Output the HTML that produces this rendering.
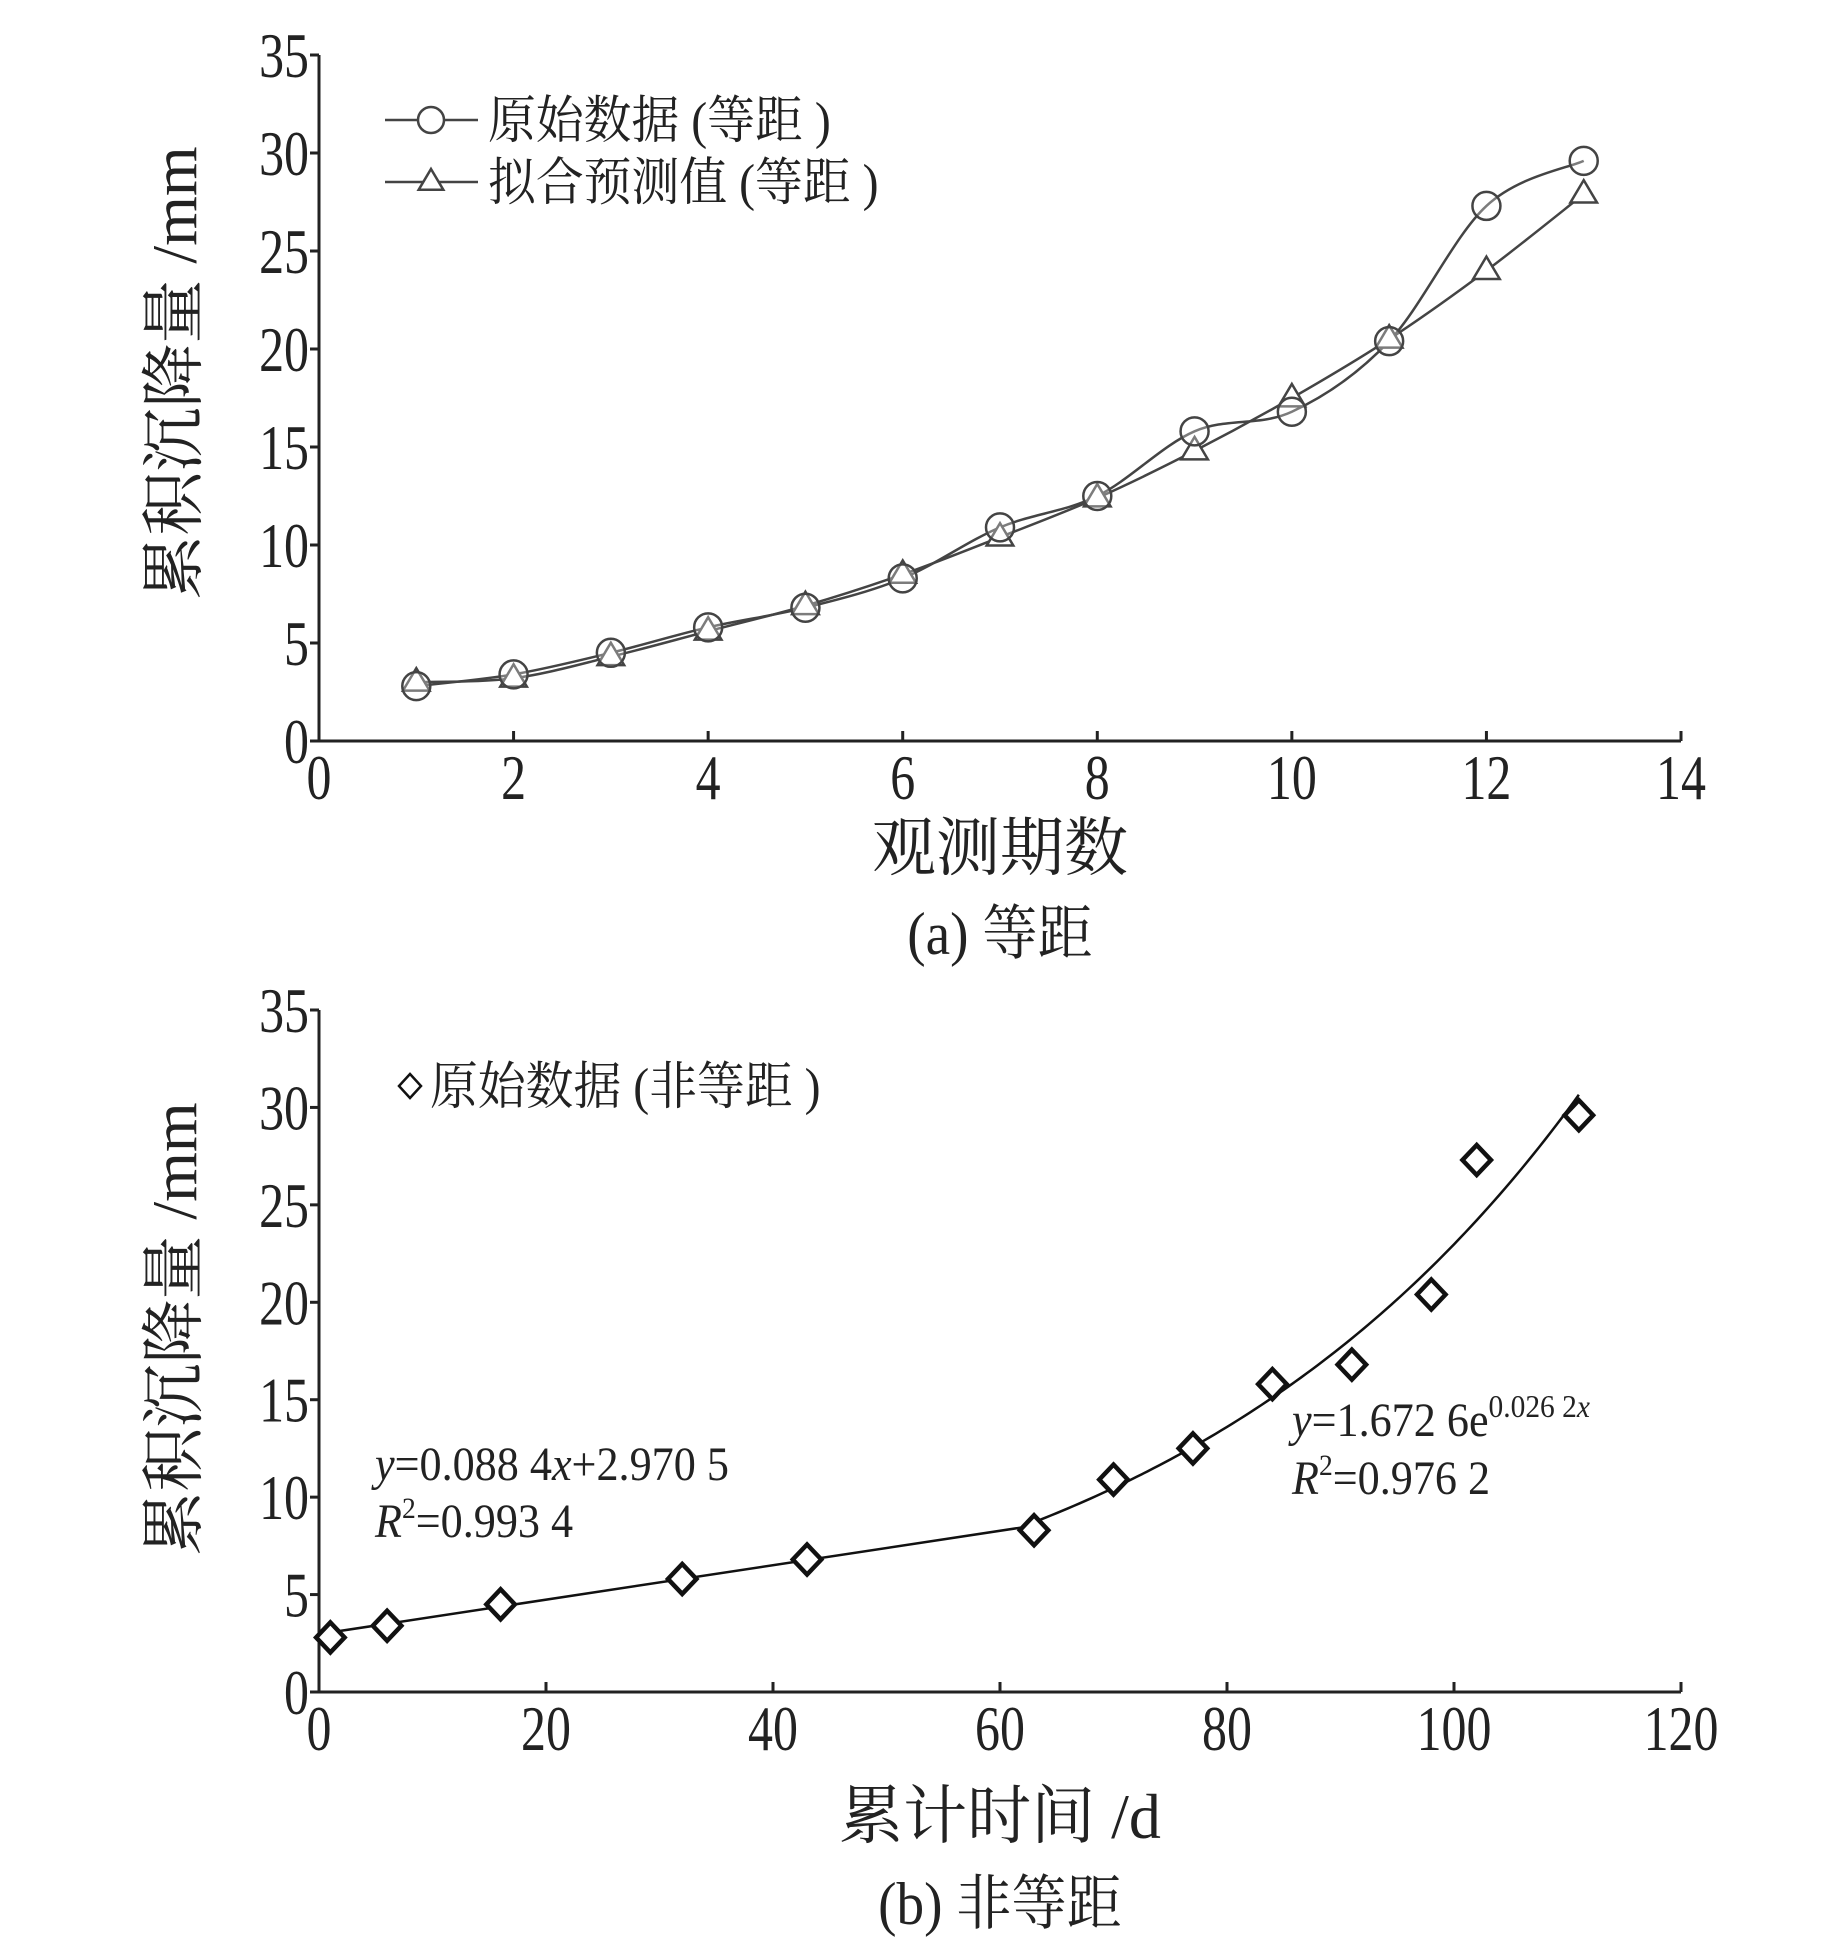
<!DOCTYPE html>
<html><head><meta charset="utf-8"><style>
html,body{margin:0;padding:0;background:#fff}
svg{display:block}
text{font-family:"Liberation Serif","Noto Serif CJK SC","Noto Sans CJK SC",serif;fill:#222}
</style></head><body>
<svg id="chart" width="1843" height="1937" viewBox="0 0 1843 1937"></svg>
<script>
const periods=[1,2,3,4,5,6,7,8,9,10,11,12,13];
const origA=[2.8,3.4,4.5,5.8,6.8,8.3,10.9,12.5,15.8,16.8,20.4,27.3,29.6];
const predA=[3.0,3.2,4.3,5.6,6.9,8.5,10.4,12.4,14.8,17.5,20.5,24.0,27.9];
const daysB=[1,6,16,32,43,63,70,77,84,91,98,102,111];
const origB=[2.8,3.4,4.5,5.8,6.8,8.3,10.9,12.5,15.8,16.8,20.4,27.3,29.6];
const linCoef=[0.0884,2.9705];
const expCoef=[1.6726,0.0262];
const yTicks=[0,5,10,15,20,25,30,35];
const xTicksA=[0,2,4,6,8,10,12,14];
const xTicksB=[0,20,40,60,80,100,120];

const svg=document.getElementById('chart');
const NS='http://www.w3.org/2000/svg';
function el(tag,attrs,parent){const e=document.createElementNS(NS,tag);for(const k in attrs)e.setAttribute(k,attrs[k]);(parent||svg).appendChild(e);return e;}
function txt(s,x,y,size,anchor,parent){const t=el('text',{x:x,y:y,'font-size':size,'text-anchor':anchor||'middle'},parent);t.textContent=s;return t;}
function ctxt(s,x,y,size,anchor,sx,parent){const t=el('text',{x:0,y:0,'font-size':size,'text-anchor':anchor,transform:`translate(${x},${y}) scale(${sx},1)`},parent);t.textContent=s;return t;}

function axes(g,x0,x1,y0,y1,xmax,xt,ymax){
  const sx=v=>x0+(v/xmax)*(x1-x0);
  const sy=v=>y0-(v/ymax)*(y0-y1);
  const ax=el('path',{d:`M${x0} ${y1}L${x0} ${y0}L${x1} ${y0}`,fill:'none',stroke:'#222','stroke-width':3},g);
  
  
  yTicks.forEach(v=>{
    el('line',{x1:x0-9,x2:x0,y1:sy(v),y2:sy(v),stroke:'#222','stroke-width':3},g);
    const t=ctxt(String(v),x0-10,sy(v)+22,64,'end',0.78,g);
    
    
  });
  xt.forEach(v=>{
    el('line',{x1:sx(v),x2:sx(v),y1:y0,y2:y0-10,stroke:'#222','stroke-width':3},g);
    const t=ctxt(String(v),sx(v),y0+58,64,'middle',0.78,g);
    
    
  });
  return [sx,sy];
}
function smooth(pts){
  let d=`M${pts[0][0]} ${pts[0][1]}`;
  for(let i=0;i<pts.length-1;i++){
    const p0=pts[i-1]||pts[i],p1=pts[i],p2=pts[i+1],p3=pts[i+2]||p2;
    const c1=[p1[0]+(p2[0]-p0[0])/6,p1[1]+(p2[1]-p0[1])/6];
    const c2=[p2[0]-(p3[0]-p1[0])/6,p2[1]-(p3[1]-p1[1])/6];
    d+=`C${c1[0]} ${c1[1]} ${c2[0]} ${c2[1]} ${p2[0]} ${p2[1]}`;
  }
  return d;
}
function tri(g,x,y,r){return el('path',{d:`M${x} ${y-r}L${x+r*0.95} ${y+r*0.6}L${x-r*0.95} ${y+r*0.6}Z`,fill:'#fff',stroke:'#444','stroke-width':2.5},g);}

// ---- Chart A
const gA=el('g',{});


const [sxA,syA]=axes(gA,319,1681,741,55,14,xTicksA,35);
const pA=el('path',{d:smooth(periods.map((p,i)=>[sxA(p),syA(predA[i])])),fill:'none',stroke:'#444','stroke-width':2.5},gA);


const oA=el('path',{d:smooth(periods.map((p,i)=>[sxA(p),syA(origA[i])])),fill:'none',stroke:'#444','stroke-width':2.5},gA);


periods.forEach((p,i)=>{
  const t=tri(gA,sxA(p),syA(predA[i]),14);
  
  
  const c=el('circle',{cx:sxA(p),cy:syA(origA[i]),r:14,fill:'#fff','fill-opacity':0.3,stroke:'#444','stroke-width':2.5},gA);
  
  
});
const lg1=el('g',{},gA);


el('line',{x1:385,x2:478,y1:120,y2:120,stroke:'#444','stroke-width':2.5},lg1);
el('circle',{cx:431,cy:120,r:13,fill:'#fff',stroke:'#444','stroke-width':2.5},lg1);
ctxt('原始数据 (等距 )',488,138,52,'start',0.92,lg1);
const lg2=el('g',{},gA);


el('line',{x1:385,x2:478,y1:182,y2:182,stroke:'#444','stroke-width':2.5},lg2);
tri(lg2,431,182,13);
ctxt('拟合预测值 (等距 )',488,200,52,'start',0.92,lg2);
const yA=txt('累积沉降量 /mm',0,0,64,'middle',gA);
yA.setAttribute('transform','translate(196,373) rotate(-90)');


const xA=txt('观测期数',1000,870,64,'middle',gA);


const cA=ctxt('(a) 等距',1000,954,60,'middle',0.92,gA);



// ---- Chart B
const gB=el('g',{});


const [sxB,syB]=axes(gB,319,1681,1692,1010,120,xTicksB,35);
let dl=`M${sxB(0)} ${syB(linCoef[1])}L${sxB(63)} ${syB(linCoef[0]*63+linCoef[1])}`;
const lin=el('path',{d:dl,fill:'none',stroke:'#111','stroke-width':2.5},gB);


let de='';
for(let x=63;x<=111;x+=0.5){const y=expCoef[0]*Math.exp(expCoef[1]*x);de+=(de?'L':'M')+sxB(x)+' '+syB(y);}
const ex=el('path',{d:de,fill:'none',stroke:'#111','stroke-width':2.5},gB);


daysB.forEach((d,i)=>{
  const x=sxB(d),y=syB(origB[i]),r=15;
  const m=el('path',{d:`M${x} ${y-r}L${x+r*0.95} ${y}L${x} ${y+r}L${x-r*0.95} ${y}Z`,fill:'#fff',stroke:'#111','stroke-width':4.5},gB);
  
  
});
const lg3=el('g',{},gB);


el('path',{d:'M410 1074L421 1086L410 1098L399 1086Z',fill:'#fff',stroke:'#111','stroke-width':2.5},lg3);
ctxt('原始数据 (非等距 )',430,1104,52,'start',0.92,lg3);
const e1=el('text',{x:0,y:0,'font-size':48,'text-anchor':'start',transform:'translate(375,1480) scale(0.92,1)'},gB);
e1.innerHTML='<tspan font-style="italic">y</tspan>=0.088 4<tspan font-style="italic">x</tspan>+2.970 5';


const e2=el('text',{x:0,y:0,'font-size':48,'text-anchor':'start',transform:'translate(375,1537) scale(0.92,1)'},gB);
e2.innerHTML='<tspan font-style="italic">R</tspan><tspan font-size="30" dy="-19">2</tspan><tspan dy="19">=0.993 4</tspan>';


const e3=el('text',{x:0,y:0,'font-size':48,'text-anchor':'start',transform:'translate(1292,1436) scale(0.92,1)'},gB);
e3.innerHTML='<tspan font-style="italic">y</tspan>=1.672 6e<tspan font-size="32" dy="-19">0.026 2<tspan font-style="italic">x</tspan></tspan>';


const e4=el('text',{x:0,y:0,'font-size':48,'text-anchor':'start',transform:'translate(1292,1494) scale(0.92,1)'},gB);
e4.innerHTML='<tspan font-style="italic">R</tspan><tspan font-size="30" dy="-19">2</tspan><tspan dy="19">=0.976 2</tspan>';


const yB=txt('累积沉降量 /mm',0,0,64,'middle',gB);
yB.setAttribute('transform','translate(196,1329) rotate(-90)');


const xB=txt('累计时间 /d',1000,1838,64,'middle',gB);


const cB=ctxt('(b) 非等距',1000,1924,60,'middle',0.92,gB);


</script>
</body></html>
